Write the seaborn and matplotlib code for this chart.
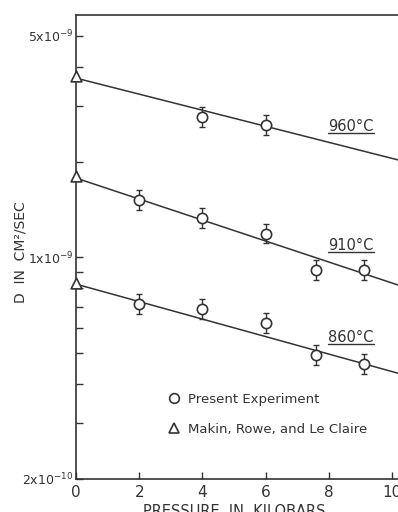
import numpy as np
import pandas as pd
import matplotlib.pyplot as plt
import seaborn as sns
from matplotlib.lines import Line2D
from matplotlib.ticker import NullFormatter
from matplotlib.transforms import IdentityTransform

# -----------------------------
# DATA
# -----------------------------
temps = ["960°C", "910°C", "860°C"]

# present experiment: pressure (kbar) and D (cm^2/sec)
exp_p_960 = [4.0, 6.0]
exp_d_960 = [2.77e-9, 2.62e-9]
exp_p_910 = [2.0, 4.0, 6.0, 7.6, 9.1]
exp_d_910 = [1.52e-9, 1.33e-9, 1.19e-9, 9.1e-10, 9.1e-10]
exp_p_860 = [2.0, 4.0, 6.0, 7.6, 9.1]
exp_d_860 = [7.13e-10, 6.87e-10, 6.21e-10, 4.92e-10, 4.61e-10]
rel_err = 0.075

# Makin, Rowe and Le Claire (1 atm values)
makin_p = [0.0, 0.0, 0.0]
makin_d = [3.73e-9, 1.81e-9, 8.3e-10]

# fitted lines: value at 0 kbar and at the right edge of the plot
fit_p = [0.0, 10.2]
fit_960 = [3.68e-9, 2.03e-9]
fit_910 = [1.78e-9, 8.18e-10]
fit_860 = [8.24e-10, 4.31e-10]

x_ticks = [0, 2, 4, 6, 8, 10]
x_tick_labels = ["0", "2", "4", "6", "8", "10"]
y_major = [2e-10, 1e-9, 5e-9]
y_major_labels = [r"2x10$^{-10}$", r"1x10$^{-9}$", r"5x10$^{-9}$"]
y_minor = [3e-10, 4e-10, 5e-10, 6e-10, 7e-10, 8e-10, 9e-10, 2e-9, 3e-9, 4e-9]

exp_df = pd.concat([
    pd.DataFrame({"T": temps[0], "P": exp_p_960, "D": exp_d_960}),
    pd.DataFrame({"T": temps[1], "P": exp_p_910, "D": exp_d_910}),
    pd.DataFrame({"T": temps[2], "P": exp_p_860, "D": exp_d_860}),
], ignore_index=True)

fit_df = pd.concat([
    pd.DataFrame({"T": temps[0], "P": fit_p, "D": fit_960}),
    pd.DataFrame({"T": temps[1], "P": fit_p, "D": fit_910}),
    pd.DataFrame({"T": temps[2], "P": fit_p, "D": fit_860}),
], ignore_index=True)

# -----------------------------
# PLOT
# -----------------------------
sns.set_style("ticks")
plt.rcParams["font.family"] = ["DejaVu Sans"]
ink = "#333333"

fig = plt.figure(figsize=(3.98, 5.12), dpi=100)
ax = fig.add_axes([76 / 398, 33 / 512, 322 / 398, 464 / 512])
ax.set_yscale("log")

sns.lineplot(data=fit_df, x="P", y="D", units="T", estimator=None,
             color=ink, lw=1.1, ax=ax, zorder=2)

d = exp_df["D"]
ax.errorbar(exp_df["P"], d, yerr=[d - d / (1 + rel_err), d * (1 + rel_err) - d],
            fmt="none", ecolor=ink, elinewidth=1.0, capsize=2.5, capthick=1.0,
            zorder=3)
sns.scatterplot(data=exp_df, x="P", y="D", marker="o", s=55,
                facecolor="white", edgecolor=ink, linewidth=1.2, ax=ax, zorder=4)
sns.scatterplot(x=makin_p, y=makin_d, marker="^", s=60, facecolor="white",
                edgecolor=ink, linewidth=1.2, ax=ax, zorder=4, clip_on=False)

ax.set_xlim(0, 10.19)
ax.set_ylim(2e-10, 5.82e-9)

ax.spines["right"].set_visible(False)
for s in ["left", "top", "bottom"]:
    ax.spines[s].set_color(ink)
    ax.spines[s].set_linewidth(1.2)

ax.set_xticks(x_ticks, x_tick_labels)
ax.set_yticks(y_major, y_major_labels)
ax.set_yticks(y_minor, minor=True)
ax.yaxis.set_minor_formatter(NullFormatter())
ax.tick_params(axis="x", direction="in", length=5, width=1, colors=ink,
               labelsize=11, pad=4)
ax.tick_params(axis="y", which="both", direction="in", length=5, width=1,
               colors=ink, labelsize=9, pad=2)

ax.set_xlabel("PRESSURE  IN  KILOBARS", fontsize=10.5, color=ink, va="top")
ax.xaxis.set_label_coords(5 / 10.19, (479 - 504) / 464)
ax.set_ylabel("D  IN  CM²/SEC", fontsize=10, color=ink, va="center")
ax.yaxis.set_label_coords((21 - 76) / 322, (479 - 252) / 464)

# temperature labels (underlined)
label_y = [0.759, 0.504, 0.306]
temp_texts = []
for t, yy in zip(temps, label_y):
    temp_texts.append(ax.text(8.7, yy, t, transform=ax.get_xaxis_transform(),
                              ha="center", va="center", fontsize=10.5, color=ink))

handles = [
    Line2D([], [], ls="none", marker="o", ms=7, mfc="white", mec=ink, mew=1.2),
    Line2D([], [], ls="none", marker="^", ms=7, mfc="white", mec=ink, mew=1.2),
]
leg = ax.legend(handles, ["Present Experiment", "Makin, Rowe, and Le Claire"],
                loc="upper left", bbox_to_anchor=(0.288, 0.186), frameon=False,
                fontsize=9.5, handlelength=0.8, handletextpad=0.65,
                labelspacing=1.3, borderpad=0, borderaxespad=0)
for t in leg.get_texts():
    t.set_color(ink)

fig.canvas.draw()
renderer = fig.canvas.get_renderer()
for t in temp_texts:
    bb = t.get_window_extent(renderer)
    fig.add_artist(Line2D([bb.x0, bb.x1], [bb.y0 + 1, bb.y0 + 1],
                          transform=IdentityTransform(), color=ink, lw=1.0))

fig.savefig("out.png", dpi=100)
